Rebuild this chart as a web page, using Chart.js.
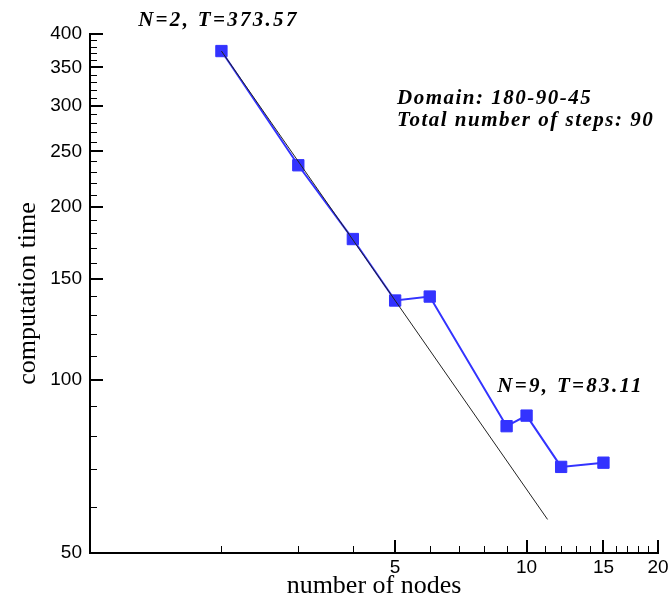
<!DOCTYPE html>
<html>
<head>
<meta charset="utf-8">
<script src="https://cdn.jsdelivr.net/npm/chart.js@4"></script>
<style>
  body { margin: 0; background: #fff; }
  #wrap { width: 672px; height: 603px; }
</style>
</head>
<body>
<div id="wrap"><canvas id="timingChart" width="672" height="603"></canvas></div>
<script>
// measured run times
const nodes = [2, 3, 4, 5, 6, 9, 10, 12, 15];
const times = [373.57, 236.4, 175.9, 137.5, 139.7, 83.11, 86.7, 70.6, 71.8];

// reference scaling line
const refNodes = [2, 11.17];
const refTimes = [373.57, 57.2];

// axis ticks
const xTicks = [5, 10, 15, 20];
const xMinor = [2, 3, 4, 6, 7, 8, 9, 11, 12, 13, 14, 16, 17, 18, 19];
const yTicks = [50, 100, 150, 200, 250, 300, 350, 400];
const yMinor = [60, 70, 80, 90, 110, 120, 130, 140, 160, 170, 180, 190, 210, 220, 230, 240,
                260, 270, 280, 290, 310, 320, 330, 340, 360, 370, 380, 390];

const blue = "#3333ff";

// axis lines with inward ticks, plus the text notes
const axisFrame = {
    id: "axisFrame",
    afterDraw(chart) {
        const { ctx, chartArea: a, scales: { x, y } } = chart;
        ctx.save();
        ctx.strokeStyle = "#000";
        ctx.lineCap = "butt";

        ctx.lineWidth = 1;
        ctx.beginPath();
        xMinor.forEach(v => {
            const px = Math.round(x.getPixelForValue(v)) + 0.5;
            ctx.moveTo(px, a.bottom); ctx.lineTo(px, a.bottom - 7);
        });
        yMinor.forEach(v => {
            const py = Math.round(y.getPixelForValue(v)) + 0.5;
            ctx.moveTo(a.left, py); ctx.lineTo(a.left + 7, py);
        });
        ctx.stroke();

        ctx.lineWidth = 2;
        ctx.beginPath();
        xTicks.forEach(v => {
            const px = Math.round(x.getPixelForValue(v));
            ctx.moveTo(px, a.bottom); ctx.lineTo(px, a.bottom - 13);
        });
        yTicks.forEach(v => {
            const py = Math.round(y.getPixelForValue(v));
            ctx.moveTo(a.left, py); ctx.lineTo(a.left + 13, py);
        });
        ctx.moveTo(a.left, y.getPixelForValue(yTicks[yTicks.length - 1]) - 1);
        ctx.lineTo(a.left, a.bottom);
        ctx.lineTo(x.getPixelForValue(xTicks[xTicks.length - 1]) + 1, a.bottom);
        ctx.stroke();

        // notes
        ctx.fillStyle = "#000";
        ctx.font = 'italic bold 21px "Liberation Serif"';
        const pts = chart.getDatasetMeta(1).data;
        const first = pts[0], ninth = pts[5];
        ctx.letterSpacing = "2.3px";
        ctx.textAlign = "center";
        ctx.fillText(`N=${nodes[0]}, T=${times[0]}`, first.x - 3, first.y - 25);
        ctx.fillText(`N=${nodes[5]}, T=${times[5]}`, ninth.x + 64, ninth.y - 34);
        ctx.letterSpacing = "1.5px";
        ctx.textAlign = "left";
        ctx.fillText("Domain: 180-90-45", a.left + 307, a.top + 70);
        ctx.fillText("Total number of steps: 90", a.left + 307, a.top + 92);
        ctx.restore();
    }
};

const tickFont = { family: "Liberation Sans", size: 19 };
const titleFont = { family: "Liberation Serif", size: 26 };

new Chart(document.getElementById("timingChart"), {
    type: "line",
    data: {
        datasets: [{
            label: "ideal",
            data: refNodes.map((n, i) => ({ x: n, y: refTimes[i] })),
            borderColor: "#222",
            borderWidth: 1,
            pointRadius: 0,
            fill: false
        }, {
            label: "computation time",
            data: nodes.map((n, i) => ({ x: n, y: times[i] })),
            borderColor: blue,
            backgroundColor: blue,
            borderWidth: 2,
            pointStyle: "rect",
            pointRadius: 8,
            pointBorderWidth: 1,
            pointBorderColor: blue,
            pointBackgroundColor: blue,
            fill: false
        }]
    },
    options: {
        responsive: false,
        animation: false,
        layout: { padding: { top: 34, right: 14, left: 0, bottom: 0 } },
        plugins: { legend: { display: false }, tooltip: { enabled: false } },
        scales: {
            x: {
                type: "logarithmic",
                min: 1,
                max: 20,
                grid: { display: false, drawTicks: false },
                border: { display: false },
                afterBuildTicks: s => { s.ticks = xTicks.map(v => ({ value: v })); },
                afterFit: s => { s.height = 50; },
                ticks: {
                    font: tickFont, color: "#000", padding: 3,
                    autoSkip: false, maxRotation: 0,
                    callback: v => String(v)
                },
                title: {
                    display: true, text: "number of nodes", font: titleFont,
                    color: "#000", padding: { top: 0, bottom: 1 }
                }
            },
            y: {
                type: "logarithmic",
                min: 50,
                max: 400,
                grid: { display: false, drawTicks: false },
                border: { display: false },
                afterBuildTicks: s => { s.ticks = yTicks.map(v => ({ value: v })); },
                afterFit: s => { s.width = 90; },
                ticks: {
                    font: tickFont, color: "#000", padding: 8,
                    autoSkip: false,
                    callback: v => String(v)
                },
                title: {
                    display: true, text: "computation time", font: titleFont,
                    color: "#000", padding: { top: 13, bottom: 0 }
                }
            }
        }
    },
    plugins: [axisFrame]
});
</script>
</body>
</html>
